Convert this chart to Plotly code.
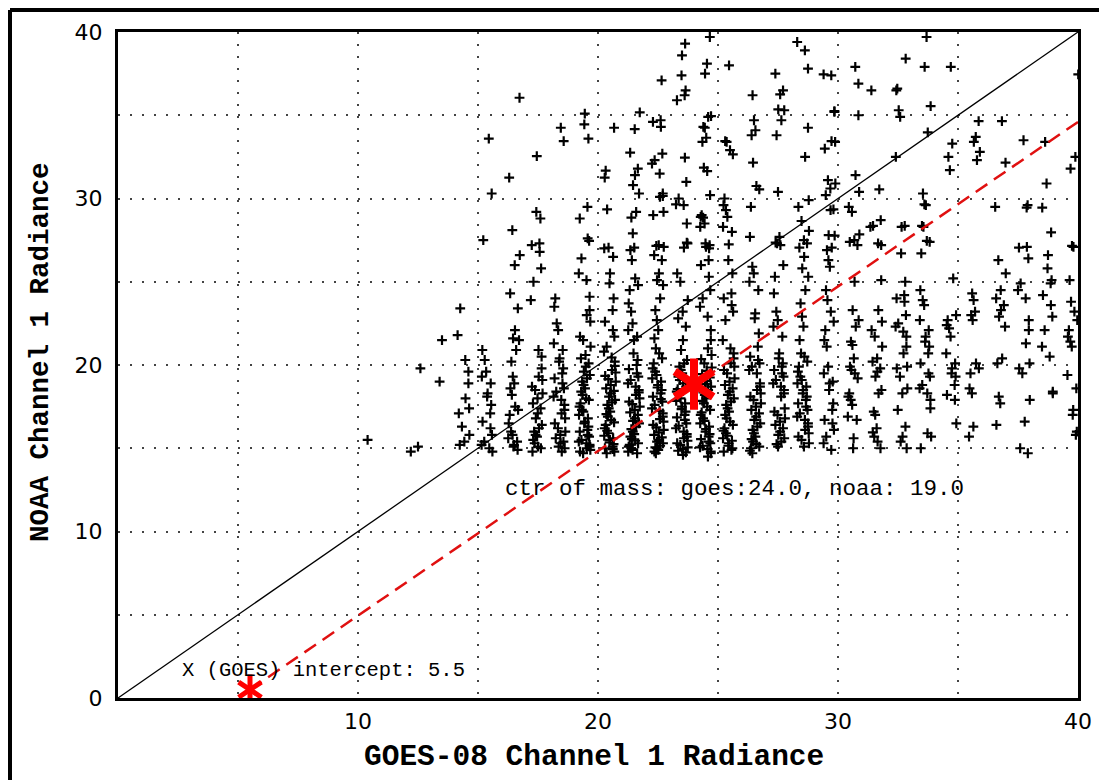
import plotly.graph_objects as go

# ---------------- data ----------------
col_goes = [14.4, 15.4, 16.5, 17.45, 18.4, 19.45, 20.5, 21.5, 22.5, 23.5, 24.5, 25.45, 26.55,
            27.55, 28.55, 29.65, 30.65, 31.6, 32.65, 33.65, 34.75, 35.7, 36.75, 37.75, 38.75, 39.8]

col_noaa = [
    [15.2, 15.4, 15.8, 16.3, 17.1, 17.4, 18.0, 18.9, 19.6, 20.3, 21.8, 23.4],
    [14.8, 15.0, 15.2, 15.4, 15.8, 16.2, 16.6, 17.1, 17.6, 18.1, 18.3, 18.9, 19.3, 19.6, 20.3, 20.9, 27.5, 30.3, 33.6],
    [14.9, 15.1, 15.2, 15.4, 15.6, 15.8, 16.0, 16.5, 17.0, 17.3, 17.5, 18.2, 18.6, 18.9, 19.3, 20.2, 20.9, 21.5, 21.6,
     22.1, 23.4, 24.3, 26.0, 26.6, 28.1, 31.25, 36.05],
    [14.8, 15.0, 15.1, 15.3, 15.5, 15.7, 15.8, 16.0, 16.2, 16.4, 16.8, 17.1, 17.4, 17.7, 18.0, 18.3, 18.5, 18.7, 19.1,
     19.3, 19.8, 20.5, 20.9, 23.9, 25.0, 25.8, 26.8, 27.2, 27.3, 28.8, 29.2, 32.55],
    [14.8, 15.0, 15.1, 15.3, 15.4, 15.6, 15.8, 16.0, 16.2, 16.5, 16.8, 17.1, 17.3, 17.6, 17.9, 18.1, 18.4, 18.6, 18.9,
     19.2, 19.5, 19.8, 20.2, 20.4, 20.9, 21.3, 22.1, 22.5, 23.5, 24.0, 33.45, 34.25],
    [14.7, 14.8, 14.9, 15.0, 15.1, 15.2, 15.3, 15.4, 15.5, 15.7, 15.8, 16.0, 16.1, 16.3, 16.5, 16.6, 16.8, 17.0, 17.2,
     17.3, 17.5, 17.7, 17.9, 18.0, 18.2, 18.4, 18.6, 18.8, 19.0, 19.2, 19.4, 19.6, 19.9, 20.1, 20.4, 20.6, 21.1, 21.5,
     21.7, 22.6, 23.0, 23.3, 24.1, 25.1, 25.5, 26.4, 27.45, 27.6, 28.8, 29.5, 33.6, 34.45, 35.1],
    [14.7, 14.8, 14.95, 15.0, 15.1, 15.25, 15.35, 15.5, 15.6, 15.75, 15.9, 16.05, 16.2, 16.4, 16.55, 16.7, 16.9, 17.05,
     17.2, 17.4, 17.6, 17.75, 17.9, 18.1, 18.3, 18.45, 18.6, 18.8, 19.0, 19.15, 19.35, 19.55, 19.7, 19.95, 20.2, 20.45,
     20.8, 21.1, 21.7, 22.1, 22.6, 23.3, 24.0, 24.9, 25.5, 26.5, 27.0, 27.05, 29.35, 31.25, 31.67, 34.25],
    [14.7, 14.8, 14.9, 15.0, 15.1, 15.2, 15.3, 15.45, 15.55, 15.7, 15.85, 16.0, 16.15, 16.3, 16.5, 16.65, 16.8, 17.0,
     17.15, 17.3, 17.5, 17.65, 17.8, 18.0, 18.2, 18.35, 18.5, 18.7, 18.9, 19.1, 19.3, 19.5, 19.75, 20.0, 20.3, 20.7,
     21.5, 21.7, 22.1, 22.5, 23.2, 23.7, 24.5, 24.8, 25.2, 26.3, 26.9, 27.05, 27.9, 28.85, 29.2, 30.3, 30.8, 31.4, 31.8,
     32.75, 34.17, 35.17],
    [14.7, 14.8, 14.9, 15.0, 15.05, 15.15, 15.3, 15.4, 15.5, 15.65, 15.8, 15.95, 16.1, 16.25, 16.4, 16.6, 16.75, 16.9,
     17.1, 17.25, 17.4, 17.6, 17.8, 17.95, 18.1, 18.3, 18.5, 18.65, 18.8, 19.0, 19.2, 19.4, 19.6, 19.8, 20.1, 20.4,
     20.7, 21.0, 21.6, 22.1, 22.7, 23.3, 24.0, 24.8, 25.1, 25.5, 26.3, 26.6, 27.2, 27.1, 27.15, 29.0, 29.2, 30.1, 30.15,
     30.3, 31.5, 32.1, 32.3, 32.7, 34.3, 34.6, 34.7, 37.1],
    [14.6, 14.75, 14.85, 14.95, 15.05, 15.2, 15.3, 15.45, 15.6, 15.7, 15.85, 16.0, 16.2, 16.35, 16.5, 16.7, 16.85, 17.0,
     17.2, 17.35, 17.5, 17.7, 17.85, 18.0, 18.2, 18.4, 18.55, 18.7, 18.9, 19.1, 19.3, 19.5, 19.7, 19.9, 20.1, 20.3,
     20.9, 21.5, 22.3, 22.8, 23.2, 23.9, 25.0, 25.5, 27.3, 27.05, 27.35, 28.5, 29.6, 29.65, 30.0, 31.0, 32.45, 35.9,
     36.2, 36.5, 37.4, 38.6, 39.3],
    [14.5, 14.7, 14.8, 14.95, 15.05, 15.15, 15.3, 15.4, 15.55, 15.7, 15.85, 16.0, 16.15, 16.3, 16.5, 16.65, 16.8, 17.0,
     17.15, 17.3, 17.5, 17.7, 17.85, 18.0, 18.2, 18.35, 18.5, 18.7, 18.85, 19.05, 19.25, 19.45, 19.65, 19.85, 20.1,
     20.35, 20.6, 21.0, 21.5, 22.1, 22.9, 23.5, 24.0, 24.5, 25.3, 26.0, 26.3, 27.2, 27.3, 27.1, 27.0, 28.3, 28.5, 28.85,
     28.9, 29.0, 30.2, 31.65, 31.85, 33.4, 33.65, 34.25, 34.3, 34.9, 34.95, 37.5, 38.1, 39.7],
    [14.8, 14.9, 15.0, 15.15, 15.3, 15.45, 15.6, 15.75, 15.9, 16.05, 16.2, 16.4, 16.6, 16.8, 17.0, 17.2, 17.4, 17.6,
     17.8, 18.0, 18.2, 18.4, 18.6, 18.8, 19.0, 19.2, 19.5, 19.7, 19.9, 20.1, 20.4, 20.7, 21.0, 21.5, 22.7, 23.2, 23.6,
     24.0, 24.3, 25.5, 26.3, 27.25, 28.0, 28.3, 28.9, 29.3, 29.6, 30.0, 32.65, 32.9, 33.4, 33.45, 38.0],
    [14.7, 14.85, 15.0, 15.1, 15.25, 15.4, 15.55, 15.7, 15.9, 16.1, 16.3, 16.5, 16.7, 16.9, 17.1, 17.3, 17.5, 17.7,
     17.9, 18.1, 18.3, 18.5, 18.7, 18.9, 19.5, 19.7, 19.9, 20.1, 20.3, 20.5, 21.1, 21.9, 22.8, 23.1, 24.5, 25.0, 25.5,
     25.9, 27.7, 29.5, 30.55, 30.75, 32.15, 33.8, 34.1, 34.7, 36.2],
    [15.1, 15.25, 15.4, 15.6, 15.8, 16.0, 16.2, 16.4, 16.6, 16.8, 17.0, 17.2, 17.4, 18.1, 18.3, 18.5, 18.7, 18.9, 19.1,
     19.3, 19.5, 19.7, 19.9, 20.1, 20.4, 20.7, 21.7, 22.3, 22.7, 23.2, 24.3, 25.3, 26.0, 27.2, 27.3, 27.35, 27.7, 30.4,
     33.8, 34.7, 35.3, 35.35, 36.25, 36.5, 37.5],
    [15.1, 15.3, 15.5, 15.7, 15.9, 16.1, 16.3, 16.5, 16.7, 16.9, 17.1, 17.3, 17.5, 17.7, 17.9, 18.1, 18.3, 18.5, 18.7,
     18.9, 19.1, 19.3, 19.6, 19.9, 20.2, 20.5, 20.7, 21.5, 22.3, 22.9, 23.7, 24.5, 25.3, 25.8, 26.5, 27.3, 27.05, 27.5,
     28.05, 28.65, 29.5, 29.9, 32.5, 34.25, 37.8, 38.9, 39.4],
    [14.9, 15.3, 15.7, 16.1, 16.5, 16.7, 17.3, 17.7, 18.5, 18.9, 19.0, 19.5, 19.9, 21.1, 21.5, 22.1, 22.6, 23.2, 23.9,
     24.5, 25.9, 26.3, 26.9, 27.05, 27.77, 27.8, 29.3, 29.35, 30.2, 30.6, 30.9, 31.1, 33.0, 33.4, 33.45, 35.2, 35.25,
     37.4, 37.45],
    [15.0, 15.6, 16.7, 16.9, 17.6, 17.9, 18.1, 18.3, 19.2, 19.5, 19.7, 19.9, 20.4, 21.2, 21.4, 22.3, 22.7, 23.3, 25.0,
     27.2, 27.4, 27.5, 27.85, 29.2, 29.5, 30.4, 31.4, 35.0, 36.9, 37.9],
    [15.0, 15.4, 15.7, 15.95, 16.2, 17.0, 17.2, 18.3, 18.5, 19.3, 19.6, 19.8, 20.2, 20.4, 21.1, 21.7, 22.1, 22.6, 23.3,
     25.1, 27.2, 27.3, 28.3, 28.35, 28.7, 30.55, 36.5],
    [15.0, 15.4, 15.7, 16.3, 17.3, 18.3, 18.6, 19.3, 19.8, 19.9, 20.7, 21.1, 21.7, 22.0, 22.3, 22.5, 23.0, 23.8, 24.0,
     24.2, 25.0, 26.7, 28.3, 28.35, 32.5, 34.9, 35.3, 36.5, 36.6, 38.4],
    [15.0, 15.7, 15.9, 17.4, 17.9, 18.3, 18.6, 18.8, 19.3, 19.5, 20.1, 20.7, 21.1, 21.4, 21.7, 22.1, 22.7, 23.6, 23.9,
     24.5, 26.7, 27.4, 27.45, 28.3, 28.35, 29.6, 29.65, 30.3, 33.97, 35.55, 37.9, 39.7],
    [16.5, 17.9, 18.2, 18.8, 19.3, 19.5, 19.8, 20.1, 20.7, 21.7, 22.2, 22.4, 22.7, 23.0, 25.2, 31.7, 32.5, 33.3, 37.9],
    [15.7, 16.3, 18.3, 18.6, 19.5, 19.8, 20.1, 22.7, 23.0, 23.2, 23.9, 24.3, 32.3, 32.8, 33.4, 33.7, 34.65],
    [16.4, 17.7, 18.1, 20.1, 20.4, 22.3, 22.9, 23.3, 23.6, 24.0, 24.5, 25.5, 26.3, 29.5, 32.15, 34.65],
    [14.7, 15.0, 16.6, 17.9, 19.5, 19.8, 20.1, 21.3, 22.1, 22.7, 24.0, 24.5, 24.9, 26.4, 27.1, 27.05, 29.45, 29.6, 33.5],
    [18.3, 18.4, 20.5, 21.1, 22.1, 22.9, 23.6, 24.2, 24.9, 25.1, 25.8, 26.6, 27.97, 29.45, 30.9, 33.4],
    [15.8, 16.0, 17.0, 17.3, 18.6, 19.4, 21.1, 21.4, 21.7, 22.1, 22.7, 23.2, 23.8, 25.1, 27.1, 27.15, 31.8, 32.5, 37.45],
]

# hand-typed within-column spread of the GOES value (radiance bins are ~0.5 wide)
jitter = [-0.16, 0.11, -0.05, 0.2, -0.22, 0.03, 0.15, -0.11, 0.07, -0.18, 0.24, -0.02, 0.09, -0.25, 0.17, -0.07,
          0.0, 0.21, -0.14, 0.05, -0.2, 0.13, -0.04, 0.18, -0.09, 0.23, -0.24, 0.04, 0.12, -0.15, 0.08, -0.06,
          0.16, -0.21, 0.01, 0.2, -0.12]

lone_goes = [10.4, 12.2, 12.5, 12.6, 13.4, 13.5]
lone_noaa = [15.5, 14.8, 15.1, 19.8, 19.0, 21.5]

one_to_one_x = [0, 40]
one_to_one_y = [0, 40]
fit_x = [5.5, 40.0]
fit_y = [0.5, 34.6]
center_goes, center_noaa = 24.0, 18.85
intercept_goes, intercept_noaa = 5.5, 0.5

tick_vals = [0, 5, 10, 15, 20, 25, 30, 35, 40]
x_tick_text = ["", "", "10", "", "20", "", "30", "", "40"]
y_tick_text = ["0", "", "10", "", "20", "", "30", "", "40"]

# ---------------- build points ----------------
pts_x, pts_y = [], []
for i, (cx, ys) in enumerate(zip(col_goes, col_noaa)):
    for j, y in enumerate(ys):
        pts_x.append(cx + jitter[(j * 5 + i * 3) % len(jitter)])
        pts_y.append(y)
pts_x += lone_goes
pts_y += lone_noaa

MONO = "Liberation Mono, Courier New, monospace"

fig = go.Figure()
fig.add_trace(go.Scatter(
    x=pts_x, y=pts_y, mode="markers",
    marker=dict(symbol="cross-thin", size=7, line=dict(color="black", width=2.2), color="black"),
    hoverinfo="skip", showlegend=False))
fig.add_trace(go.Scatter(x=one_to_one_x, y=one_to_one_y, mode="lines",
                         line=dict(color="black", width=1.3), showlegend=False))
fig.add_trace(go.Scatter(x=fit_x, y=fit_y, mode="lines",
                         line=dict(color="#e01010", width=2.5, dash="14px,8px"), showlegend=False))
for sym in ["y-up", "y-down"]:
    fig.add_trace(go.Scatter(x=[center_goes], y=[center_noaa], mode="markers",
                             marker=dict(symbol=sym, size=32, line=dict(color="red", width=8)),
                             showlegend=False))
    fig.add_trace(go.Scatter(x=[intercept_goes], y=[intercept_noaa], mode="markers",
                             marker=dict(symbol=sym, size=19, line=dict(color="red", width=5)),
                             showlegend=False))

axis_common = dict(
    range=[0, 40], tickvals=tick_vals, showgrid=True, gridcolor="#444444", gridwidth=1.6,
    griddash="2px,10px", zeroline=False, showline=True, linecolor="black", linewidth=3,
    mirror=True, ticks="", ticklen=0, tickfont=dict(family="DejaVu Sans", size=22, color="black"),
)
fig.update_xaxes(**axis_common, ticktext=x_tick_text, ticklabelstandoff=2)
fig.update_yaxes(**axis_common, ticktext=y_tick_text, ticklabelstandoff=8)

fig.add_annotation(x=25.67, y=12.55, xref="x", yref="y", showarrow=False,
                   xanchor="center", yanchor="middle",
                   text="ctr of mass: goes:24.0, noaa: 19.0",
                   font=dict(family=MONO, size=22.5, color="black"))
fig.add_annotation(x=8.58, y=1.68, xref="x", yref="y", showarrow=False,
                   xanchor="center", yanchor="middle",
                   text="X (GOES) intercept: 5.5",
                   font=dict(family=MONO, size=20.5, color="black"))
fig.add_annotation(x=0.4958, y=-0.0886, xref="paper", yref="paper", showarrow=False,
                   xanchor="center", yanchor="middle",
                   text="<b>GOES-08 Channel 1 Radiance</b>",
                   font=dict(family=MONO, size=29.5, color="black"))
fig.add_annotation(x=-0.08125, y=0.5195, xref="paper", yref="paper", showarrow=False, textangle=-90,
                   xanchor="center", yanchor="middle",
                   text="<b>NOAA Channel 1 Radiance</b>",
                   font=dict(family=MONO, size=27.5, color="black"))

# outer frame fragments (left and top edges)
fig.add_shape(type="line", xref="paper", yref="paper", x0=-0.1125, x1=-0.1125, y0=1.033, y1=-0.2,
              line=dict(color="black", width=4))
fig.add_shape(type="line", xref="paper", yref="paper", x0=-0.1125, x1=1.1, y0=1.033, y1=1.033,
              line=dict(color="black", width=4))

fig.update_layout(
    width=1099, height=772,
    margin=dict(l=110, r=29, t=24, b=82),
    paper_bgcolor="white", plot_bgcolor="white",
    showlegend=False,
)
fig.write_html("out.html")
